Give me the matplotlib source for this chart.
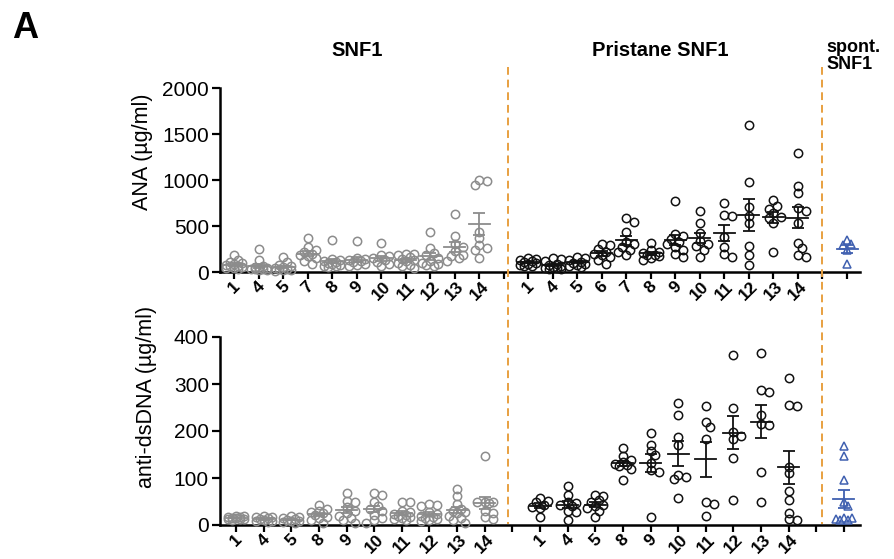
import numpy as np
import matplotlib.pyplot as plt
from matplotlib.lines import Line2D
from matplotlib.transforms import blended_transform_factory

plt.rcParams['font.family'] = ['Liberation Sans', 'DejaVu Sans']

# ---- ANA (top panel), ug/ml ----
ana_snf1_labels = ['1', '4', '5', '7', '8', '9', '10', '11', '12', '13', '14']
ana_snf1 = [
    [185, 130, 110, 95, 85, 75, 65, 60, 50, 45, 40, 35],
    [250, 130, 70, 55, 45, 40, 35, 30, 30, 25, 20],
    [165, 110, 75, 60, 50, 40, 35, 30, 25, 20, 15],
    [365, 270, 240, 215, 200, 190, 170, 150, 120, 85],
    [350, 140, 130, 120, 110, 100, 90, 80, 70, 60, 50],
    [337, 150, 140, 130, 120, 110, 90, 80, 60],
    [315, 180, 170, 150, 130, 110, 90, 70],
    [200, 195, 180, 160, 140, 130, 120, 100, 80, 60, 40],
    [435, 260, 210, 180, 150, 120, 100, 90, 75, 65],
    [630, 395, 300, 270, 230, 190, 170, 150, 120],
    [1000, 985, 950, 430, 365, 290, 260, 240, 150],
]
ana_pri_labels = ['1', '4', '5', '6', '7', '8', '9', '10', '11', '12', '13', '14']
ana_pri = [
    [150, 140, 130, 115, 105, 95, 90, 80, 70, 60],
    [150, 145, 120, 90, 75, 60, 50, 45, 40, 35, 30],
    [165, 150, 130, 110, 100, 90, 80, 70, 50],
    [300, 290, 250, 220, 200, 180, 160, 130, 90],
    [585, 545, 430, 330, 300, 270, 240, 220, 180],
    [320, 240, 220, 210, 190, 180, 170, 150, 130],
    [770, 410, 395, 360, 330, 300, 270, 240, 200, 165],
    [665, 530, 425, 340, 300, 280, 240, 165],
    [750, 620, 610, 380, 270, 195, 160],
    [1600, 980, 710, 610, 530, 285, 185, 75],
    [780, 720, 690, 640, 600, 590, 530, 220],
    [1290, 935, 860, 700, 660, 530, 315, 260, 190, 165],
]
ana_spont = [350, 300, 290, 240, 90]

# ---- anti-dsDNA (bottom panel), ug/ml ----
dna_snf1_labels = ['1', '4', '5', '8', '9', '10', '11', '12', '13', '14']
dna_snf1 = [
    [20, 19, 18, 16, 15, 14, 13, 12, 12, 10],
    [20, 18, 16, 14, 12, 10, 9, 8, 7],
    [20, 18, 15, 13, 11, 9, 8, 6, 5],
    [42, 34, 30, 28, 25, 22, 18, 15, 10, 5],
    [68, 52, 50, 38, 30, 25, 20, 15, 10, 5],
    [68, 64, 50, 40, 35, 30, 22, 15, 10, 5],
    [48, 48, 30, 27, 24, 22, 20, 18, 15, 12, 10],
    [44, 42, 40, 28, 24, 20, 18, 15, 12, 10, 8],
    [77, 62, 45, 35, 30, 28, 25, 20, 15, 10, 5],
    [146, 50, 49, 48, 47, 30, 25, 18, 12],
]
dna_pri_labels = ['1', '4', '5', '8', '9', '10', '11', '12', '13', '14']
dna_pri = [
    [57, 52, 48, 42, 38, 36, 17],
    [82, 64, 50, 46, 42, 40, 30, 27, 11],
    [63, 62, 53, 48, 42, 40, 36, 30, 17],
    [163, 146, 138, 134, 130, 127, 125, 120, 95],
    [195, 170, 157, 148, 132, 118, 113, 17],
    [260, 235, 188, 170, 106, 103, 97, 58],
    [254, 220, 209, 184, 49, 44, 19],
    [362, 250, 198, 190, 182, 142, 53],
    [366, 288, 284, 235, 215, 212, 112, 49],
    [313, 255, 253, 123, 110, 72, 53, 25, 12, 10],
]
dna_spont = [168, 146, 95, 50, 40, 15, 14, 12, 10, 10]

GREY = '#8c8c8c'
BLACK = '#111111'
BLUE = '#4060b0'
ORANGE = '#e8a040'


def swarm(vals, dx, dy, diam=8.0):
    # small beeswarm: x offsets (data units) so markers overlap less
    vals = np.asarray(vals, float)
    offs = np.zeros(len(vals))
    placed = []
    step = diam * 0.5
    cands = [0, step, -step, 2 * step, -2 * step]
    for i in np.argsort(vals)[::-1]:
        y = vals[i] * dy
        best, best_d = 0, -1
        for x in cands:
            d = min([np.hypot(x - px, y - py) for px, py in placed] + [99])
            if d >= diam * 0.7:
                best = x
                break
            if d > best_d:
                best, best_d = x, d
        placed.append((best, y))
        offs[i] = best / dx
    return offs


def panel(ax, snf1, snf1_lab, pri, pri_lab, spont, ymax, yticks, xmax):
    n1, n2 = len(snf1), len(pri)
    pos1 = np.arange(n1)
    pos2 = np.arange(n1 + 1, n1 + 1 + n2)
    pos3 = n1 + n2 + 2
    ax.set_xlim(-0.58, xmax)
    ax.set_ylim(0, ymax)
    fig.canvas.draw()
    p0 = ax.transData.transform((0, 0))
    p1 = ax.transData.transform((1, 1))
    dx, dy = p1[0] - p0[0], p1[1] - p0[1]

    groups = [(p, v, GREY, 'o') for p, v in zip(pos1, snf1)]
    groups += [(p, v, BLACK, 'o') for p, v in zip(pos2, pri)]
    groups += [(pos3, spont, BLUE, '^')]
    for p, v, c, m in groups:
        v = np.asarray(v, float)
        xs = p + swarm(v, dx, dy)
        ax.plot(xs, v, ls='none', marker=m, ms=6, mfc='none', mec=c,
                mew=1.1, clip_on=False, zorder=3)
        mean = v.mean()
        sem = v.std(ddof=1) / np.sqrt(len(v))
        hw = 10.5 / dx
        ax.plot([p - hw, p + hw], [mean, mean], color=c, lw=1.3, zorder=4,
                clip_on=False)
        ax.errorbar([p], [mean], yerr=[sem], fmt='none', ecolor=c,
                    elinewidth=1.3, capsize=4, capthick=1.3, zorder=4)

    ticks = list(pos1) + [n1] + list(pos2) + [n1 + n2 + 1, pos3]
    labs = list(snf1_lab) + [''] + list(pri_lab) + ['', '']
    ax.set_xticks(ticks)
    ax.set_xticklabels(labs, rotation=45, ha='center', fontweight='bold',
                       fontsize=12.5)
    ax.set_yticks(yticks)
    ax.tick_params(axis='y', labelsize=15, length=6, width=1.6, pad=2)
    ax.tick_params(axis='x', length=5, width=1.6, pad=0)
    for s in ['top', 'right']:
        ax.spines[s].set_visible(False)
    for s in ['left', 'bottom']:
        ax.spines[s].set_linewidth(1.8)
    return n1, n1 + n2 + 1


fig = plt.figure(figsize=(8.95, 5.59), dpi=100)
W, H = 895.0, 559.0
ax1 = fig.add_axes([220 / W, 1 - 272 / H, 640 / W, 184 / H])
ax2 = fig.add_axes([220 / W, 1 - 525 / H, 640 / W, 188 / H])

g1, g2 = panel(ax1, ana_snf1, ana_snf1_labels, ana_pri, ana_pri_labels,
               ana_spont, 2000, [0, 500, 1000, 1500, 2000], 25.53)
panel(ax2, dna_snf1, dna_snf1_labels, dna_pri, dna_pri_labels,
      dna_spont, 400, [0, 100, 200, 300, 400], 22.58)

# dashed separators spanning both panels
tr = blended_transform_factory(ax1.transData, fig.transFigure)
for g in [g1 + 0.15, g2]:
    fig.add_artist(Line2D([g, g], [1 - 67 / H, 1 - 524 / H], transform=tr,
                          color=ORANGE, ls=(0, (4, 2.5)), lw=1.4))

fig.text(143 / W, 1 - 152 / H, 'ANA (µg/ml)', rotation=90, fontsize=15.5,
         ha='center', va='center')
fig.text(147 / W, 1 - 397 / H, 'anti-dsDNA (µg/ml)', rotation=90,
         fontsize=15.5, ha='center', va='center')

fig.text(357 / W, 1 - 50 / H, 'SNF1', fontsize=14.5, fontweight='bold',
         ha='center', va='center')
fig.text(660 / W, 1 - 50 / H, 'Pristane SNF1', fontsize=14.5,
         fontweight='bold', ha='center', va='center')
fig.text(826 / W, 1 - 39 / H, 'spont.\nSNF1', fontsize=13,
         fontweight='bold', ha='left', va='top', linespacing=1.0)
fig.text(12 / W, 1 - 28 / H, 'A', fontsize=26, fontweight='bold',
         ha='left', va='center')

fig.savefig('out.png', dpi=100)
